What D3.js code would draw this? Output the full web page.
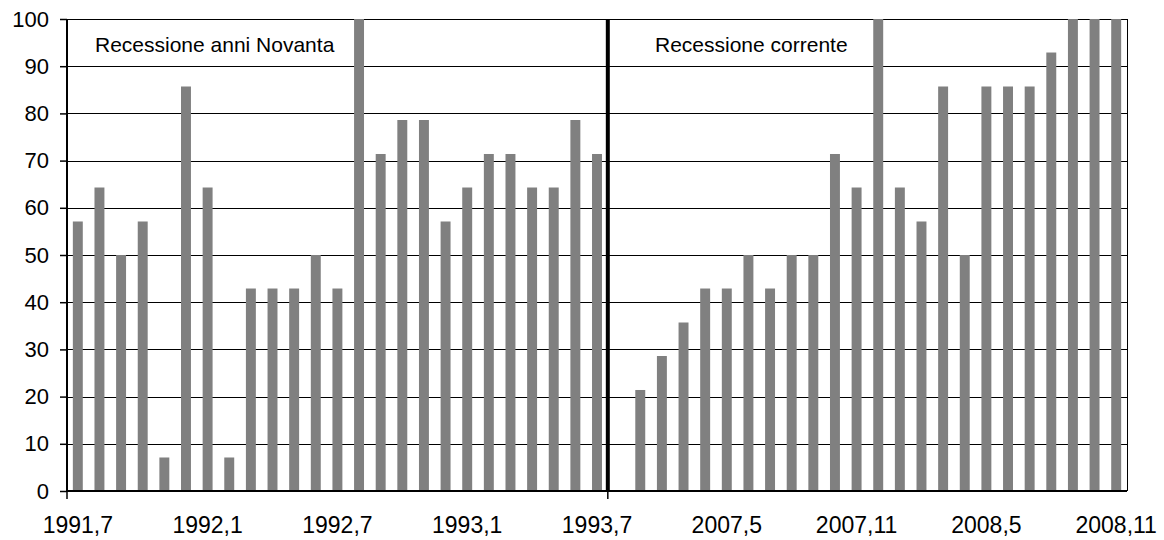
<!DOCTYPE html>
<html>
<head>
<meta charset="utf-8">
<script src="https://cdn.jsdelivr.net/npm/d3@7"></script>
<style>
  body { margin: 0; background: #fff; }
  svg { display: block; font-family: "Liberation Sans", Arial, sans-serif; }
</style>
</head>
<body>
<svg id="chart" width="1157" height="540"></svg>
<script>
// anni Novanta: luglio 1991 - luglio 1993
var monthsNovanta = ["1991,7","1991,8","1991,9","1991,10","1991,11","1991,12",
  "1992,1","1992,2","1992,3","1992,4","1992,5","1992,6",
  "1992,7","1992,8","1992,9","1992,10","1992,11","1992,12",
  "1993,1","1993,2","1993,3","1993,4","1993,5","1993,6","1993,7"];
var valuesNovanta = [57.1, 64.3, 50, 57.1, 7.1, 85.7,
  64.3, 7.1, 42.9, 42.9, 42.9, 50,
  42.9, 100, 71.4, 78.6, 78.6, 57.1,
  64.3, 71.4, 71.4, 64.3, 64.3, 78.6, 71.4];

// recessione corrente: dicembre 2006 - novembre 2008
var monthsCorrente = ["2006,12",
  "2007,1","2007,2","2007,3","2007,4","2007,5","2007,6",
  "2007,7","2007,8","2007,9","2007,10","2007,11","2007,12",
  "2008,1","2008,2","2008,3","2008,4","2008,5","2008,6",
  "2008,7","2008,8","2008,9","2008,10","2008,11"];
var valuesCorrente = [null,
  21.4, 28.6, 35.7, 42.9, 42.9, 50,
  42.9, 50, 50, 71.4, 64.3, 100,
  64.3, 57.1, 85.7, 50, 85.7, 85.7,
  85.7, 92.9, 100, 100, 100];

var yTicks = [0, 10, 20, 30, 40, 50, 60, 70, 80, 90, 100];
var labels = ["Recessione anni Novanta", "Recessione corrente"];

var svg = d3.select("#chart");
var pLeft = 67, pRight = 1127, pTop = 19, pBottom = 491;

var months = monthsNovanta.concat(monthsCorrente);
var data = months.map(function(m, i) {
  return { month: m, value: i < valuesNovanta.length ? valuesNovanta[i] : valuesCorrente[i - valuesNovanta.length] };
});

var x = d3.scaleBand().domain(months).range([pLeft, pRight])
  .paddingInner(0.54).paddingOuter(0.27);
var y = d3.scaleLinear().domain([0, 100]).range([pBottom, pTop]);

// gridlines
svg.append("g").selectAll("line").data(yTicks.filter(d => d > 0))
  .enter().append("line")
  .attr("x1", pLeft).attr("x2", pRight)
  .attr("y1", d => Math.round(y(d)) + 0.5).attr("y2", d => Math.round(y(d)) + 0.5)
  .attr("stroke", "#000").attr("stroke-width", 1);

// right border
svg.append("line")
  .attr("x1", pRight + 0.5).attr("x2", pRight + 0.5)
  .attr("y1", pTop).attr("y2", pBottom)
  .attr("stroke", "#000");

svg.append("g").selectAll("rect").data(data.filter(d => d.value != null))
  .enter().append("rect")
  .attr("x", d => x(d.month))
  .attr("width", x.bandwidth())
  .attr("y", d => y(d.value))
  .attr("height", d => y(0) - y(d.value))
  .attr("fill", "#808080");

// separatore tra le due recessioni
var sep = x(monthsCorrente[0]) - x.step() * x.paddingInner() / 2;
svg.append("line")
  .attr("x1", sep).attr("x2", sep)
  .attr("y1", pTop).attr("y2", pBottom)
  .attr("stroke", "#000").attr("stroke-width", 4);

// y axis
var yAxis = svg.append("g")
  .attr("transform", "translate(" + pLeft + ",0)")
  .call(d3.axisLeft(y).tickValues(yTicks).tickSize(7).tickPadding(11));
yAxis.select(".domain").attr("stroke-width", 2).attr("d", "M0," + pTop + "V" + (pBottom + 1));
yAxis.selectAll(".tick line").attr("stroke-width", 1.5);
yAxis.selectAll("text").attr("font-size", 22).attr("fill", "#000")
  .attr("font-family", "Liberation Sans, Arial, sans-serif");

// x axis: etichette ogni 6 mesi
var xAxis = svg.append("g")
  .attr("transform", "translate(0," + pBottom + ")")
  .call(d3.axisBottom(x).tickValues(months.filter((d, i) => i % 6 === 0))
    .tickSize(0).tickPadding(26));
xAxis.select(".domain").attr("stroke-width", 2).attr("d", "M" + (pLeft - 1) + ",0H" + pRight);
xAxis.selectAll("text").attr("font-size", 23).attr("fill", "#000")
  .attr("font-family", "Liberation Sans, Arial, sans-serif");

// tick marks only at left edge and at separator
svg.append("g").selectAll("line").data([pLeft, sep])
  .enter().append("line")
  .attr("x1", d => d).attr("x2", d => d)
  .attr("y1", pBottom).attr("y2", pBottom + 8)
  .attr("stroke", "#000").attr("stroke-width", 1.5);

// etichette dei periodi
svg.append("g").selectAll("text").data(labels)
  .enter().append("text")
  .attr("x", (d, i) => i === 0 ? 95 : 655)
  .attr("y", 52)
  .attr("font-size", 21)
  .text(d => d);
</script>
</body>
</html>
